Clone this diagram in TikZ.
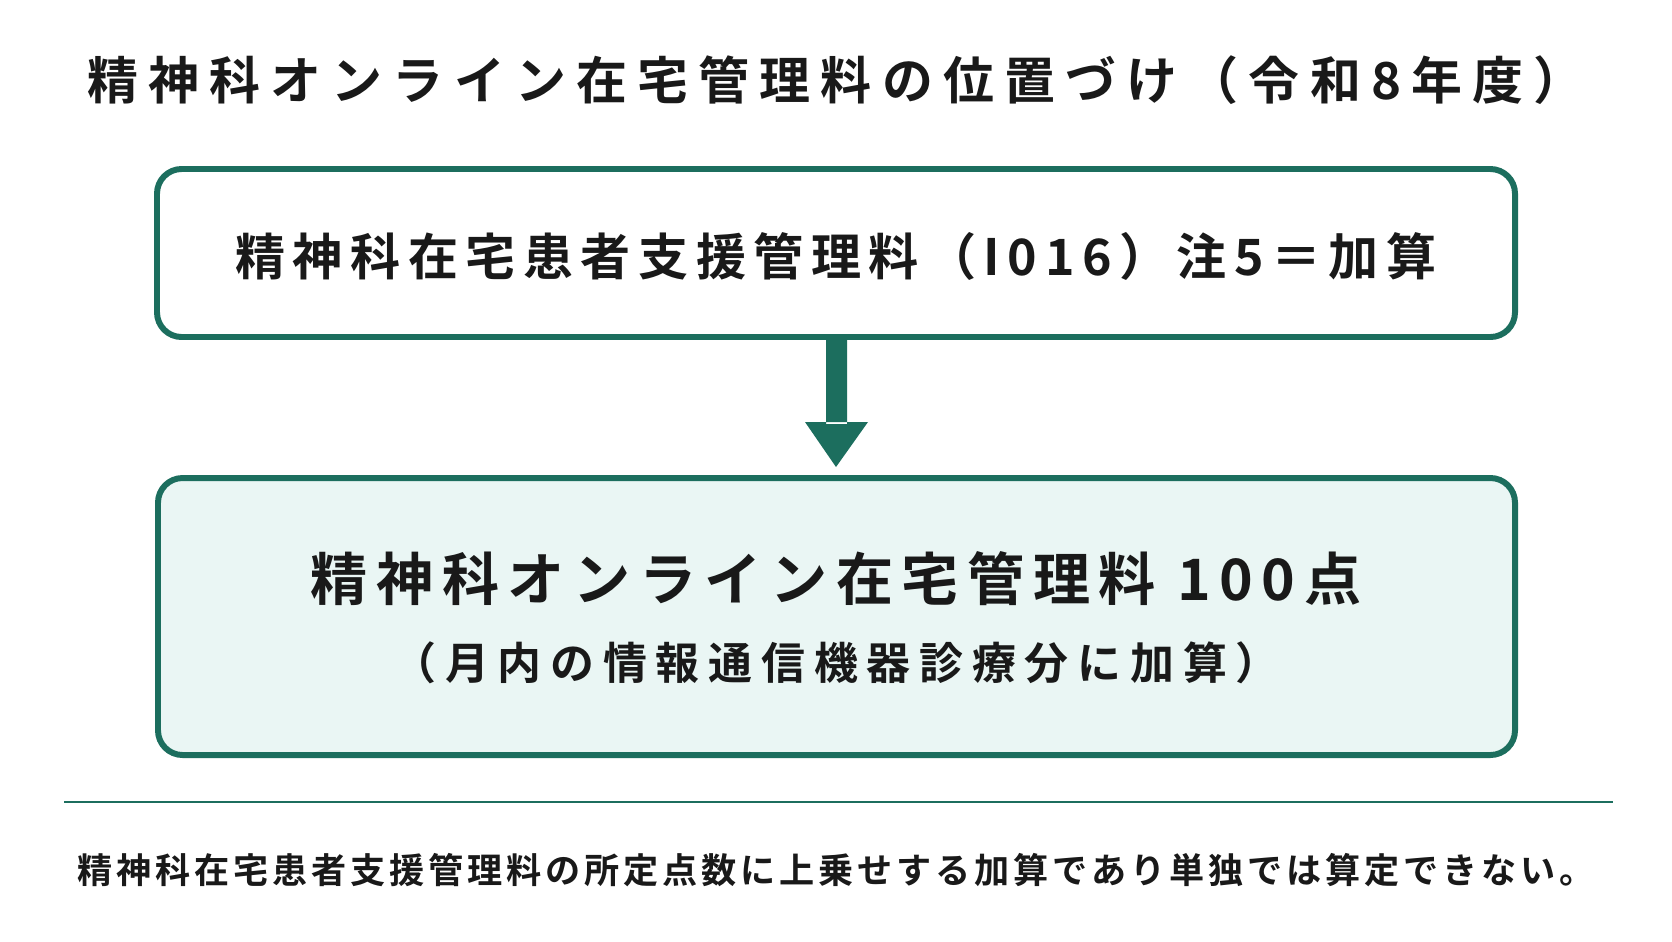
\documentclass[tikz,border=0pt]{standalone}
\usepackage{fontspec}
\setmainfont{Noto Sans CJK JP}
\newfontfamily\jpwide{Noto Sans CJK JP Bold}[LetterSpace=20]
\newfontfamily\jpmid{Noto Sans CJK JP Bold}[LetterSpace=15]
\newfontfamily\jpnarrow{Noto Sans CJK JP Bold}[LetterSpace=11]
\usetikzlibrary{positioning}
\definecolor{frame}{HTML}{1C6E5E}
\definecolor{pale}{HTML}{EAF6F4}
\begin{document}
\begin{tikzpicture}
[x=0.02cm, y=-0.02cm,
box/.style={draw=frame, line width=3.4pt, rounded corners=14pt},
label/.style={text=black!90, inner sep=0pt}]
\useasboundingbox (0,0) rectangle (1672,941);
\fill[white] (0,0) rectangle (1672,941);
\node[label, font=\jpwide\fontsize{29}{32}\selectfont] (title) at (836,80) {精神科オンライン在宅管理料の位置づけ（令和8年度）};
\draw[box, fill=white] (157,169) rectangle (1515,337);
\node[label, font=\jpmid\fontsize{28.5}{31}\selectfont] (base) at (836,256) {精神科在宅患者支援管理料（I016）注5＝加算};
\draw[box, fill=pale] (158,478) rectangle (1515,755);
\node[label, font=\jpmid\fontsize{32.5}{35}\selectfont] (online) at (836,579) {精神科オンライン在宅管理料\ 100点};
\node[label, font=\jpwide\fontsize{25}{28}\selectfont, below=20pt of online] (note) {（月内の情報通信機器診療分に加算）};
% arrow
\coordinate (tip) at (836,467);
\fill[frame] (826,339) rectangle (847,424) (805,422) -- (868,422) -- (tip) -- cycle;
\draw[frame, line width=1.6pt] (64,802) -- (1613,802);
\node[label, font=\jpnarrow\fontsize{20}{23}\selectfont] (footer) at (836,870) {精神科在宅患者支援管理料の所定点数に上乗せする加算であり単独では算定できない。};
\end{tikzpicture}
\end{document}
